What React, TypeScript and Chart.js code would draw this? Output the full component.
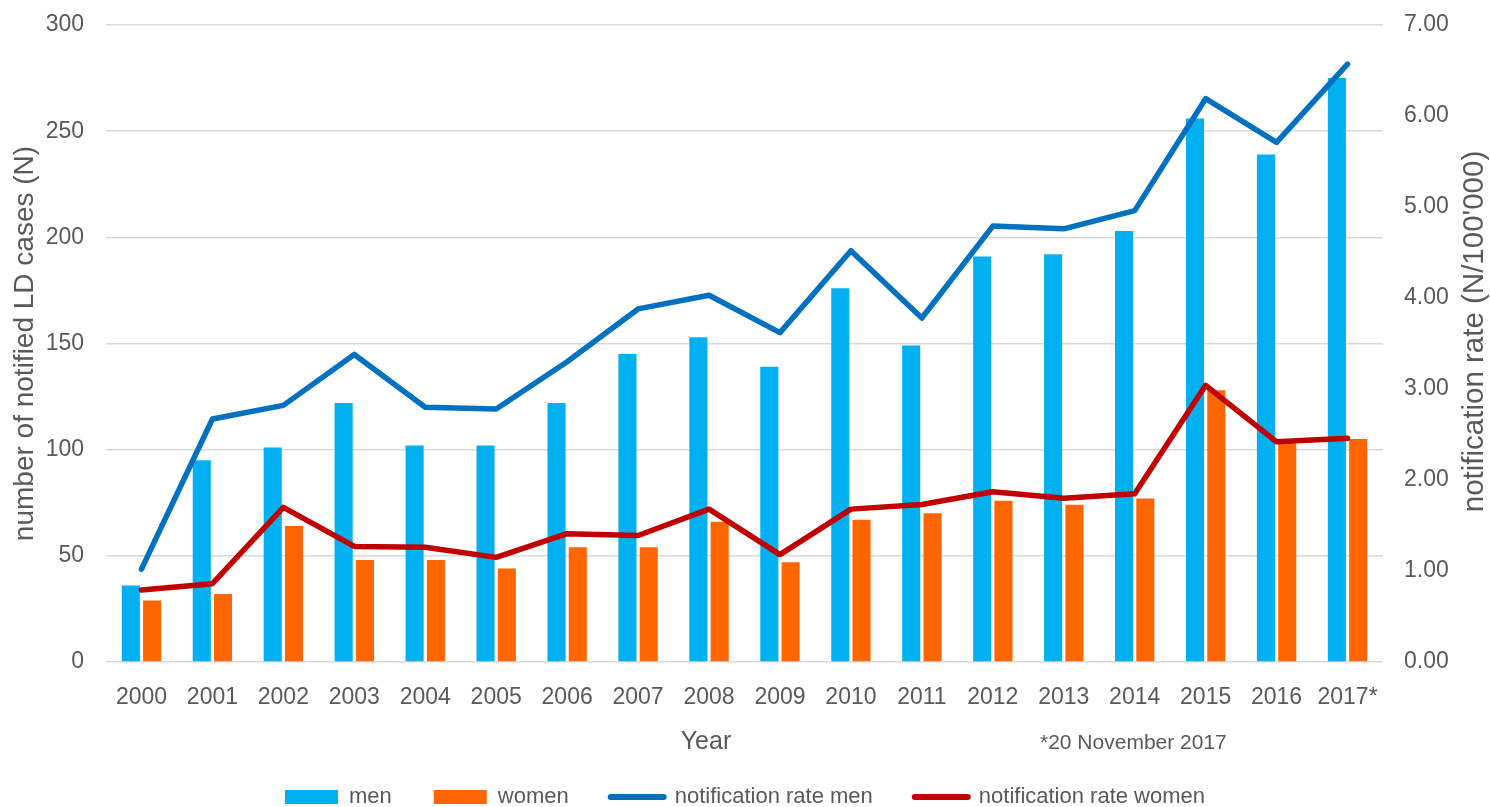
import React, { useEffect, useRef } from 'react';
import { Chart, registerables } from 'chart.js';

Chart.register(...registerables);

const years = ['2000', '2001', '2002', '2003', '2004', '2005', '2006', '2007', '2008', '2009', '2010', '2011', '2012', '2013', '2014', '2015', '2016', '2017*'];
const menCases = [36, 95, 101, 122, 102, 102, 122, 145, 153, 139, 176, 149, 191, 192, 203, 256, 239, 275];
const womenCases = [29, 32, 64, 48, 48, 44, 54, 54, 66, 47, 67, 70, 76, 74, 77, 128, 103, 105];
const rateMen = [1.02, 2.67, 2.82, 3.38, 2.8, 2.78, 3.3, 3.88, 4.03, 3.62, 4.52, 3.78, 4.79, 4.76, 4.96, 6.19, 5.71, 6.57];
const rateWomen = [0.79, 0.86, 1.7, 1.27, 1.26, 1.15, 1.41, 1.39, 1.68, 1.18, 1.68, 1.73, 1.87, 1.8, 1.85, 3.04, 2.42, 2.46];

const leftTitle = 'number of notified LD cases (N)';
const rightTitle = "notification rate (N/100'000)";
const xTitle = 'Year';
const footnote = '*20 November 2017';

const FONT = "'Liberation Sans', Arial, Helvetica, sans-serif";
const TEXT = '#595959';
const GRID = '#D9D9D9';

const extraText = {
  id: 'extraText',
  afterDraw(chart: any) {
    const { ctx, chartArea } = chart;
    ctx.save();
    ctx.fillStyle = TEXT;
    ctx.textBaseline = 'middle';
    // right axis title (reads bottom to top)
    ctx.save();
    ctx.font = `29.5px ${FONT}`;
    ctx.translate(chartArea.right + 92, (chartArea.top + chartArea.bottom) / 2 - 12);
    ctx.rotate(-Math.PI / 2);
    ctx.textAlign = 'center';
    ctx.fillText(rightTitle, 0, 0);
    ctx.restore();
    // x axis title
    ctx.font = `25px ${FONT}`;
    ctx.textAlign = 'center';
    ctx.fillText(xTitle, chartArea.left + 600, chartArea.bottom + 80);
    // footnote
    ctx.font = `21px ${FONT}`;
    ctx.textAlign = 'left';
    ctx.fillText(footnote, chartArea.left + 934, chartArea.bottom + 81);
    ctx.restore();
  },
};

export default function App() {
  const ref = useRef<HTMLCanvasElement | null>(null);

  useEffect(() => {
    if (!ref.current) return;
    const chart = new Chart(ref.current, {
      type: 'bar',
      data: {
        labels: years,
        datasets: [
          {
            type: 'bar',
            label: 'men',
            data: menCases,
            backgroundColor: '#00B0F0',
            yAxisID: 'y',
            categoryPercentage: 0.6,
            barPercentage: 0.85,
            order: 2,
          },
          {
            type: 'bar',
            label: 'women',
            data: womenCases,
            backgroundColor: '#FF6600',
            yAxisID: 'y',
            categoryPercentage: 0.6,
            barPercentage: 0.85,
            order: 2,
          },
          {
            type: 'line',
            label: 'notification rate men',
            data: rateMen,
            borderColor: '#0070C0',
            backgroundColor: '#0070C0',
            borderWidth: 5.5,
            pointRadius: 0,
            tension: 0,
            borderCapStyle: 'round',
            borderJoinStyle: 'round',
            yAxisID: 'y1',
            order: 1,
          },
          {
            type: 'line',
            label: 'notification rate women',
            data: rateWomen,
            borderColor: '#C00000',
            backgroundColor: '#C00000',
            borderWidth: 5.5,
            pointRadius: 0,
            tension: 0,
            borderCapStyle: 'round',
            borderJoinStyle: 'round',
            yAxisID: 'y1',
            order: 0,
          },
        ],
      } as any,
      options: {
        responsive: false,
        animation: false,
        devicePixelRatio: 1,
        layout: { padding: { top: 25, left: 0, right: 0, bottom: -11 } },
        plugins: {
          tooltip: { enabled: false },
          legend: {
            position: 'bottom',
            labels: {
              usePointStyle: true,
              pointStyleWidth: 53,
              boxHeight: 14,
              padding: 42,
              color: TEXT,
              font: { size: 22, family: FONT },
              generateLabels: (c: any) =>
                c.data.datasets.map((ds: any, i: number) => {
                  const isLine = ds.type === 'line';
                  const col = isLine ? ds.borderColor : ds.backgroundColor;
                  return {
                    text: ds.label,
                    fillStyle: col,
                    strokeStyle: col,
                    lineWidth: isLine ? 6 : 0,
                    lineCap: 'round',
                    pointStyle: isLine ? 'line' : 'rect',
                    hidden: false,
                    datasetIndex: i,
                    fontColor: TEXT,
                  };
                }),
            },
          },
        },
        scales: {
          x: {
            grid: { display: false },
            border: { display: false },
            ticks: { color: TEXT, font: { size: 23, family: FONT }, padding: 14, maxRotation: 0, autoSkip: false },
            afterFit: (s: any) => {
              s.height = 82;
            },
          },
          y: {
            position: 'left',
            min: 0,
            max: 300,
            ticks: { stepSize: 50, color: TEXT, font: { size: 23, family: FONT }, padding: 22 },
            grid: { color: GRID, lineWidth: 1.5, drawTicks: false },
            border: { display: false },
            title: {
              display: true,
              text: leftTitle,
              color: TEXT,
              font: { size: 28, family: FONT },
              padding: { top: 8, bottom: 0 },
            },
            afterFit: (s: any) => {
              s.width = 106;
              s.paddingTop = 10;
              s.paddingBottom = 10;
            },
          },
          y1: {
            position: 'right',
            min: 0,
            max: 7,
            ticks: {
              stepSize: 1,
              color: TEXT,
              font: { size: 23, family: FONT },
              padding: 21,
              callback: (v: any) => Number(v).toFixed(2),
            },
            grid: { display: false, drawTicks: false },
            border: { display: false },
            afterFit: (s: any) => {
              s.width = 107;
              s.paddingTop = 10;
              s.paddingBottom = 10;
            },
          },
        },
      } as any,
      plugins: [extraText],
    });
    return () => chart.destroy();
  }, []);

  return (
    <div style={{ position: 'absolute', left: 0, top: 0, width: 1490, height: 807, background: '#fff' }}>
      <canvas ref={ref} width={1490} height={807} style={{ display: 'block' }} />
    </div>
  );
}
